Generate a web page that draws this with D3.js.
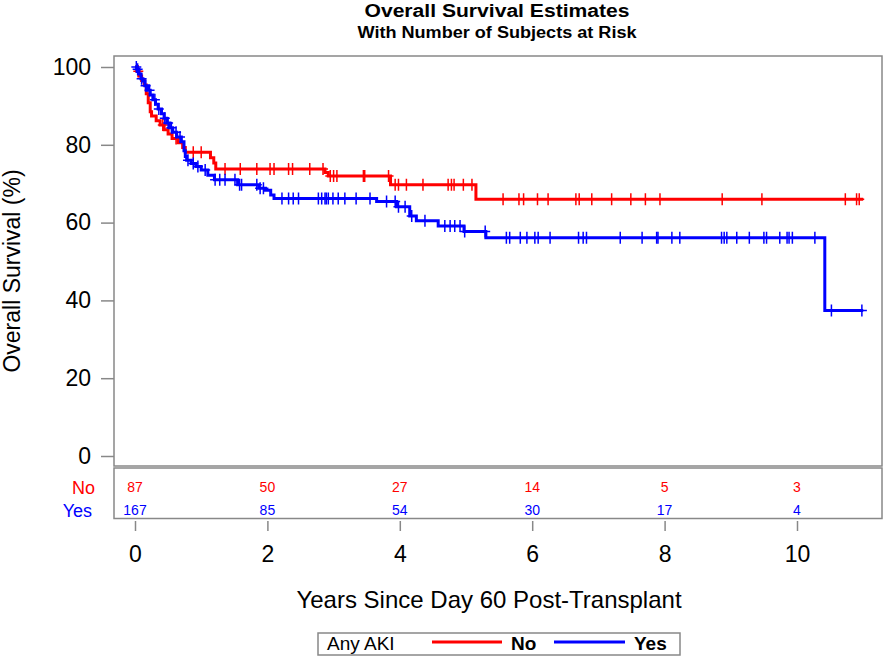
<!DOCTYPE html>
<html>
<head>
<meta charset="utf-8">
<script src="https://cdn.jsdelivr.net/npm/d3@7"></script>
<style>
  body { margin: 0; background: #fff; }
  text { font-family: "Liberation Sans", Arial, sans-serif; }
</style>
</head>
<body>
<script>
// step points of the KM curves: time (years) and survival (%) after each drop
var noTimes = [0, 0.03, 0.06, 0.1, 0.14, 0.17, 0.2, 0.23, 0.25, 0.32, 0.38, 0.44, 0.5, 0.56, 0.65, 0.72, 0.76, 1.14, 1.19, 1.22, 2.87, 2.92, 3.86, 5.15];
var noSurv  = [100, 98.9, 97.7, 96.5, 95.4, 93.1, 90.8, 88.5, 87.4, 86.2, 85.1, 83.9, 82.8, 81.6, 80.5, 79.3, 78.1, 76.7, 75.3, 73.8, 72.9, 72.0, 69.7, 66.0];
var noEnd = 11.0;
var noCensor = [0.05, 0.42, 0.62, 0.88, 1.0, 1.36, 1.59, 1.84, 2.04, 2.1, 2.32, 2.38, 2.64, 2.84, 2.95, 3.0, 3.05, 3.45, 3.47, 3.83,
  3.93, 3.98, 4.1, 4.35, 4.73, 4.78, 4.82, 4.96, 5.09, 5.56, 5.8, 5.87, 6.08, 6.24, 6.66, 6.71, 6.9, 7.2, 7.49, 7.71, 7.93, 8.87, 9.47, 10.73, 10.9, 10.94];

var yesTimes = [0, 0.03, 0.06, 0.09, 0.12, 0.15, 0.19, 0.23, 0.27, 0.31, 0.35, 0.4, 0.44, 0.48, 0.52, 0.57, 0.63, 0.7, 0.74, 0.76, 0.78, 0.85, 0.92, 1.0, 1.1, 1.2,
  1.55, 1.87, 1.97, 2.05, 2.1, 3.65, 3.95, 4.15, 4.25, 4.58, 4.97, 5.3, 10.42];
var yesSurv  = [100, 99.4, 98.2, 97.0, 96.4, 95.2, 94.0, 92.8, 91.6, 90.4, 89.2, 88.0, 86.8, 85.6, 84.4, 83.2, 82.0, 80.8, 78.5, 77.0, 76.0, 75.2, 74.4, 73.5, 72.2, 71.0,
  69.7, 68.8, 68.3, 67.1, 66.2, 65.4, 64.1, 61.7, 60.5, 59.1, 57.7, 56.1, 37.4];
var yesEnd = 11.0;
var yesCensor = [0.02, 0.04, 0.1, 0.16, 0.22, 0.3, 0.36, 0.45, 0.5, 0.55, 0.62, 0.68, 0.8, 0.88, 0.95, 1.06, 1.21, 1.28, 1.36, 1.51,
  1.58, 1.61, 1.84, 1.89, 1.94, 2.22, 2.32, 2.39, 2.47, 2.77, 2.82, 2.87, 2.89, 2.92, 2.99, 3.07, 3.17, 3.34, 3.55, 3.8, 3.93,
  3.98, 4.08, 4.18, 4.38, 4.68, 4.76, 4.83, 4.91, 4.98, 5.29, 5.61, 5.66, 5.82, 5.92, 6.04, 6.09, 6.27, 6.7, 6.77, 6.82, 7.33,
  7.66, 7.88, 7.9, 8.11, 8.23, 8.86, 8.9, 8.94, 9.09, 9.28, 9.5, 9.54, 9.74, 9.85, 9.88, 9.93, 10.27, 10.52, 10.98];

var xTicks = [0, 2, 4, 6, 8, 10];
var yTicks = [0, 20, 40, 60, 80, 100];
var riskNo  = [87, 50, 27, 14, 5, 3];
var riskYes = [167, 85, 54, 30, 17, 4];

var W = 886, H = 656;
var pLeft = 114, pRight = 882, pTop = 56, pBottom = 466;
var red = '#ff0000', blue = '#0000ff', grey = '#888888';

var svg = d3.select('body').append('svg')
    .attr('width', W)
    .attr('height', H);

var x = d3.scaleLinear().domain([0, 10]).range([135, 797]);
var y = d3.scaleLinear().domain([0, 100]).range([456, 67]);

// titles
svg.append('text')
    .attr('x', 497).attr('y', 17)
    .attr('text-anchor', 'middle')
    .attr('font-weight', 'bold')
    .attr('font-size', 18)
    .attr('textLength', 265).attr('lengthAdjust', 'spacingAndGlyphs')
    .text('Overall Survival Estimates');
svg.append('text')
    .attr('x', 497).attr('y', 38)
    .attr('text-anchor', 'middle')
    .attr('font-weight', 'bold')
    .attr('font-size', 16)
    .attr('textLength', 279).attr('lengthAdjust', 'spacingAndGlyphs')
    .text('With Number of Subjects at Risk');

// frames
svg.append('rect')
    .attr('x', pLeft).attr('y', pTop)
    .attr('width', pRight - pLeft).attr('height', pBottom - pTop)
    .attr('fill', 'none').attr('stroke', grey).attr('stroke-width', 1.5);
svg.append('rect')
    .attr('x', pLeft).attr('y', pBottom + 2)
    .attr('width', pRight - pLeft).attr('height', 50.5)
    .attr('fill', 'none').attr('stroke', grey).attr('stroke-width', 1.5);

// y axis
var yAxis = svg.append('g')
    .attr('transform', 'translate(' + pLeft + ',0)')
    .call(d3.axisLeft(y).tickValues(yTicks).tickSize(13).tickPadding(10));
yAxis.select('.domain').remove();
yAxis.selectAll('line').attr('stroke', grey).attr('stroke-width', 1.5);
yAxis.selectAll('text').attr('font-size', 23).attr('fill', '#000')
    .style('font-family', '"Liberation Sans", Arial, sans-serif');

svg.append('text')
    .attr('transform', 'translate(20,271) rotate(-90)')
    .attr('text-anchor', 'middle')
    .attr('font-size', 23)
    .text('Overall Survival (%)');

// x axis below the risk table
var xAxis = svg.append('g')
    .attr('transform', 'translate(0,521)')
    .call(d3.axisBottom(x).tickValues(xTicks).tickSize(10).tickPadding(15));
xAxis.select('.domain').remove();
xAxis.selectAll('line').attr('stroke', grey).attr('stroke-width', 1.5);
xAxis.selectAll('text').attr('font-size', 23).attr('fill', '#000')
    .style('font-family', '"Liberation Sans", Arial, sans-serif');

svg.append('text')
    .attr('x', 489).attr('y', 608)
    .attr('text-anchor', 'middle')
    .attr('font-size', 24)
    .text('Years Since Day 60 Post-Transplant');

// at-risk table
svg.append('text').attr('x', 95).attr('y', 494).attr('text-anchor', 'end')
    .attr('font-size', 18).attr('fill', red).text('No');
svg.append('text').attr('x', 92).attr('y', 517).attr('text-anchor', 'end')
    .attr('font-size', 18).attr('fill', blue).text('Yes');
svg.selectAll('.rNo').data(riskNo).enter().append('text')
    .attr('x', function (d, i) { return x(xTicks[i]); })
    .attr('y', 492).attr('text-anchor', 'middle')
    .attr('font-size', 14).attr('fill', red)
    .text(function (d) { return d; });
svg.selectAll('.rYes').data(riskYes).enter().append('text')
    .attr('x', function (d, i) { return x(xTicks[i]); })
    .attr('y', 515).attr('text-anchor', 'middle')
    .attr('font-size', 14).attr('fill', blue)
    .text(function (d) { return d; });

// curves
function stepPts(times, surv, end) {
    var pts = times.map(function (t, i) { return [t, surv[i]]; });
    pts.push([end, surv[surv.length - 1]]);
    return pts;
}
function survAt(times, surv, t) {
    var s = surv[0];
    for (var i = 0; i < times.length; i++) { if (times[i] <= t) s = surv[i]; }
    return s;
}
var line = d3.line()
    .x(function (d) { return x(d[0]); })
    .y(function (d) { return y(d[1]); })
    .curve(d3.curveStepAfter);

function drawCurve(times, surv, end, censor, color) {
    svg.append('path')
        .datum(stepPts(times, surv, end))
        .attr('d', line)
        .attr('fill', 'none')
        .attr('stroke', color)
        .attr('stroke-width', 3);
    var g = svg.append('g');
    censor.forEach(function (t) {
        var cx = x(t), cy = y(survAt(times, surv, t));
        g.append('path')
            .attr('d', 'M' + cx + ',' + (cy - 6) + 'V' + (cy + 6) + 'M' + (cx - 5) + ',' + cy + 'H' + (cx + 5))
            .attr('stroke', color)
            .attr('stroke-width', 1.5)
            .attr('fill', 'none');
    });
}
drawCurve(noTimes, noSurv, noEnd, noCensor, red);
drawCurve(yesTimes, yesSurv, yesEnd, yesCensor, blue);

// legend
var lg = svg.append('g');
lg.append('rect')
    .attr('x', 318).attr('y', 633)
    .attr('width', 362).attr('height', 22)
    .attr('fill', 'none').attr('stroke', grey).attr('stroke-width', 1.5);
lg.append('text').attr('x', 327).attr('y', 650).attr('font-size', 19).text('Any AKI');
lg.append('line').attr('x1', 432).attr('x2', 502).attr('y1', 642).attr('y2', 642)
    .attr('stroke', red).attr('stroke-width', 3);
lg.append('text').attr('x', 511).attr('y', 650).attr('font-size', 19)
    .attr('font-weight', 'bold').text('No');
lg.append('line').attr('x1', 554).attr('x2', 625).attr('y1', 642).attr('y2', 642)
    .attr('stroke', blue).attr('stroke-width', 3);
lg.append('text').attr('x', 634).attr('y', 650).attr('font-size', 19)
    .attr('font-weight', 'bold').text('Yes');
</script>
</body>
</html>
